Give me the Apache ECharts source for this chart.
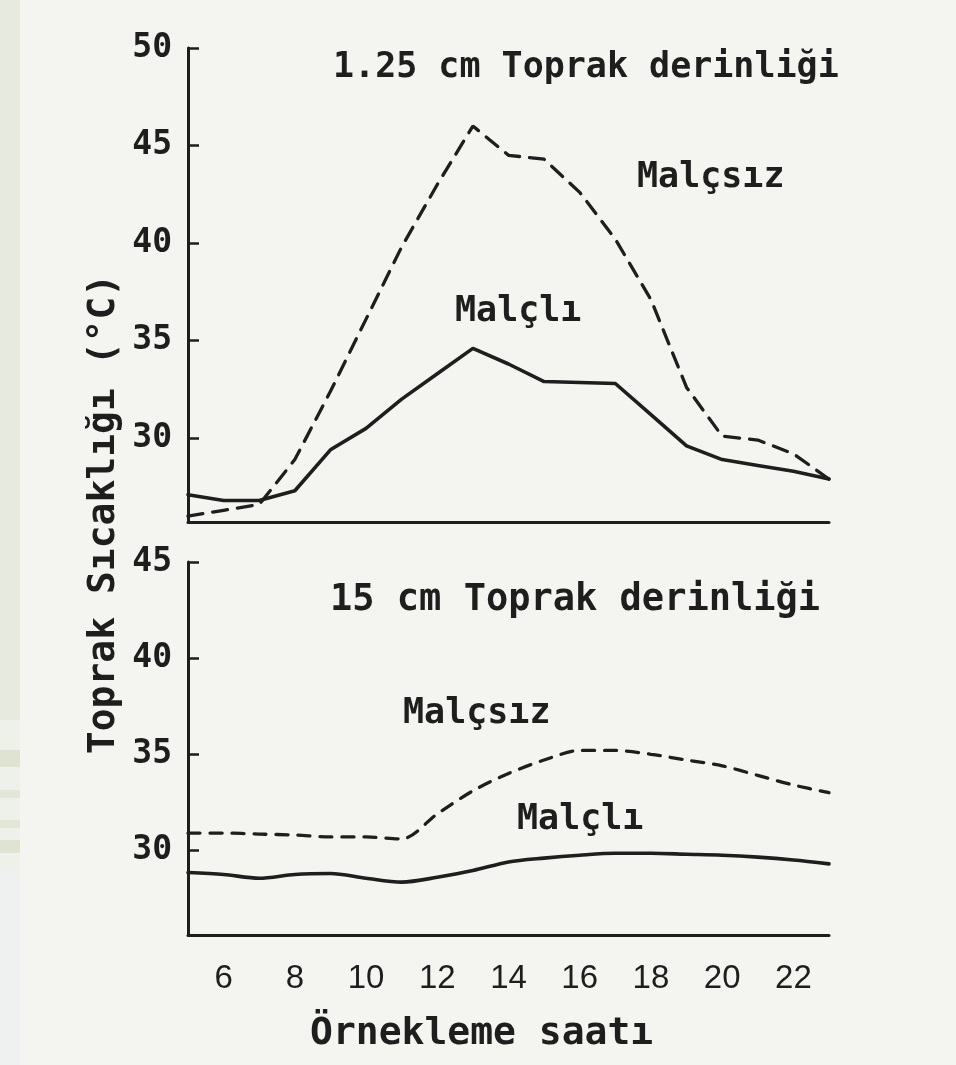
<!DOCTYPE html>
<html>
<head>
<meta charset="utf-8">
<script src="https://cdn.jsdelivr.net/npm/echarts@6/dist/echarts.min.js"></script>
<style>
  html, body { margin: 0; padding: 0; background: #f4f4f1; }
  #chart { width: 956px; height: 1065px; }
</style>
</head>
<body>
<div id="chart"></div>
<script>
// Sampling hours (x axis)
const hours = [5, 6, 7, 8, 9, 10, 11, 12, 13, 14, 15, 16, 17, 18, 19, 20, 21, 22, 23];

// Soil temperature at 1.25 cm depth (°C)
const shallowMulched = [27.1, 26.8, 26.8, 27.3, 29.4, 30.5, 32.0, 33.3, 34.6, 33.8, 32.9, 32.85, 32.8, 31.2, 29.6, 28.9, 28.6, 28.3, 27.9];
const shallowBare    = [26.0, 26.3, 26.6, 28.9, 32.4, 36.1, 39.8, 43.0, 46.0, 44.5, 44.3, 42.6, 40.2, 37.1, 32.6, 30.1, 29.9, 29.2, 27.9];

// Soil temperature at 15 cm depth (°C)
const deepMulched = [28.85, 28.75, 28.55, 28.75, 28.8, 28.55, 28.35, 28.6, 28.95, 29.4, 29.6, 29.75, 29.85, 29.85, 29.8, 29.75, 29.65, 29.5, 29.3];
const deepBare    = [30.9, 30.9, 30.85, 30.8, 30.7, 30.7, 30.6, 31.9, 33.1, 34.0, 34.7, 35.2, 35.2, 35.0, 34.7, 34.4, 33.9, 33.4, 33.0];

// Tick labels
const hourTicks = [6, 8, 10, 12, 14, 16, 18, 20, 22];
const shallowTicks = [30, 35, 40, 45, 50];
const deepTicks = [30, 35, 40, 45];

const INK = '#1e1e1e';
const MONO = "'DejaVu Sans Mono', monospace";

const pairs = (vals) => hours.map((h, i) => [h, vals[i]]);

function yAxisFor(gridIndex, min, max, ticks) {
  return {
    type: 'value', gridIndex, min, max,
    axisLine: { show: true, lineStyle: { color: INK, width: 3 } },
    axisTick: { show: true, inside: true, length: 11, customValues: ticks, lineStyle: { color: INK, width: 2.5 } },
    axisLabel: { customValues: ticks, color: INK, fontFamily: MONO, fontSize: 33, fontWeight: 'bold', margin: 16 },
    splitLine: { show: false }
  };
}

function lineSeries(name, xi, data, dashed, smooth, dash) {
  return {
    name, type: 'line', xAxisIndex: xi, yAxisIndex: xi,
    data: pairs(data), symbol: 'none', smooth: smooth,
    lineStyle: { color: INK, width: dashed ? 3.3 : 3.6, type: dashed ? dash : 'solid', cap: 'round' },
    z: 3
  };
}

function text(str, x, y, size, extra) {
  return Object.assign({
    type: 'text', x, y,
    style: { text: str, fill: INK, font: 'bold ' + size + 'px ' + MONO, textAlign: 'left', textVerticalAlign: 'middle' }
  }, extra || {});
}

const chart = echarts.init(document.getElementById('chart'), null, { renderer: 'canvas' });
chart.setOption({
  backgroundColor: '#f4f4f1',
  animation: false,
  grid: [
    { left: 188, top: 48, width: 641, height: 474 },
    { left: 188, top: 562, width: 641, height: 373 }
  ],
  xAxis: [
    {
      type: 'value', gridIndex: 0, min: 5, max: 23,
      axisLine: { show: true, lineStyle: { color: INK, width: 3 } },
      axisTick: { show: false }, axisLabel: { show: false }, splitLine: { show: false }
    },
    {
      type: 'value', gridIndex: 1, min: 5, max: 23,
      axisLine: { show: true, lineStyle: { color: INK, width: 3 } },
      axisTick: { show: false }, splitLine: { show: false },
      axisLabel: { customValues: hourTicks, color: INK, fontFamily: "'Liberation Sans', sans-serif", fontSize: 33, margin: 27 }
    }
  ],
  yAxis: [
    yAxisFor(0, 25.7, 50, shallowTicks),
    yAxisFor(1, 25.6, 45, deepTicks)
  ],
  series: [
    lineSeries('Malçlı', 0, shallowMulched, false, false),
    lineSeries('Malçsız', 0, shallowBare, true, false, [15, 10]),
    lineSeries('Malçlı', 1, deepMulched, false, 0.3),
    lineSeries('Malçsız', 1, deepBare, true, 0.3, [12, 10])
  ],
  graphic: [
    // scanned page margin strip
    { type: 'rect', shape: { x: 0, y: 0, width: 20, height: 720 }, style: { fill: '#e6eadf' }, silent: true },
    { type: 'rect', shape: { x: 0, y: 720, width: 20, height: 150 }, style: { fill: '#eef0ea' }, silent: true },
    { type: 'rect', shape: { x: 0, y: 750, width: 20, height: 17 }, style: { fill: '#dfe4d2' }, silent: true },
    { type: 'rect', shape: { x: 0, y: 790, width: 20, height: 8 }, style: { fill: '#e2e6d8' }, silent: true },
    { type: 'rect', shape: { x: 0, y: 820, width: 20, height: 8 }, style: { fill: '#e2e6d8' }, silent: true },
    { type: 'rect', shape: { x: 0, y: 840, width: 20, height: 13 }, style: { fill: '#dfe4d2' }, silent: true },
    { type: 'rect', shape: { x: 0, y: 870, width: 20, height: 195 }, style: { fill: '#eff1f1' }, silent: true },

    text('1.25 cm Toprak derinliği', 333, 68, 35),
    text('15 cm Toprak derinliği', 330, 600, 37),
    text('Malçsız', 637, 178, 35),
    text('Malçlı', 455, 312, 35),
    text('Malçsız', 403, 714, 35),
    text('Malçlı', 517, 820, 35),
    text('Örnekleme saatı', 310, 1034, 38),
    {
      type: 'text', x: 104, y: 514, rotation: Math.PI / 2,
      style: { text: 'Toprak Sıcaklığı (°C)', fill: INK, font: 'bold 38px ' + MONO, textAlign: 'center', textVerticalAlign: 'middle' }
    }
  ]
});
</script>
</body>
</html>
